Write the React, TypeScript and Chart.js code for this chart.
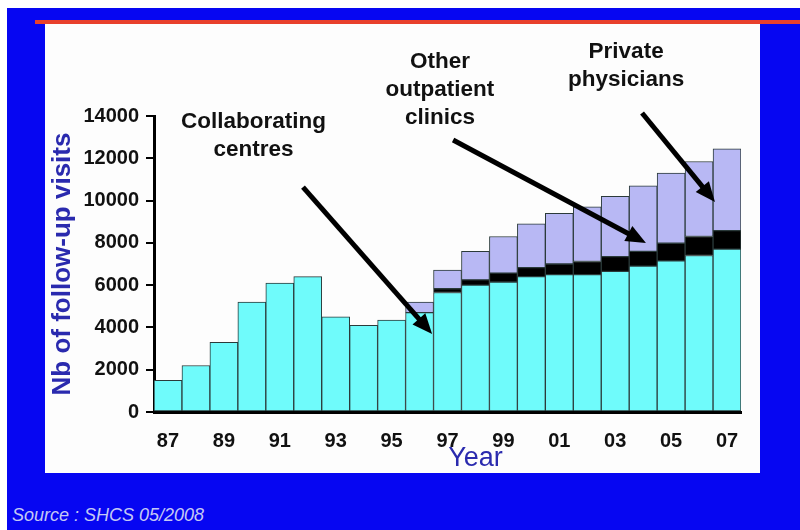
import React, { useEffect, useRef } from 'react';
import { Chart, registerables } from 'chart.js';

Chart.register(...registerables);

// ---------- data ----------
const years = ['87', '88', '89', '90', '91', '92', '93', '94', '95', '96', '97', '98', '99', '00', '01', '02', '03', '04', '05', '06', '07'];
const collaboratingCentres = [1500, 2200, 3300, 5200, 6100, 6400, 4500, 4100, 4350, 4700, 5650, 6000, 6150, 6400, 6500, 6500, 6650, 6900, 7150, 7400, 7700];
const otherOutpatientClinics = [null, null, null, null, null, null, null, null, null, null, 180, 250, 420, 430, 500, 620, 700, 700, 830, 900, 880];
const privatePhysicians = [null, null, null, null, null, null, null, null, null, 500, 880, 1350, 1730, 2070, 2400, 2580, 2850, 3100, 3320, 3550, 3870];
const yTicks = [0, 2000, 4000, 6000, 8000, 10000, 12000, 14000];

// annotation labels (x in category units, y of first line in data units)
const labelTexts = [
  { lines: ['Collaborating', 'centres'], x: 3.06, y: 13717 },
  { lines: ['Other', 'outpatient', 'clinics'], x: 9.73, y: 16555 },
  { lines: ['Private', 'physicians'], x: 16.39, y: 17028 },
];
const arrows = [
  { from: [4.83, 10640], to: [9.45, 3690] },
  { from: [10.2, 12866], to: [17.1, 7994] },
  { from: [16.96, 14143], to: [19.57, 9933] },
];

const FONT = '"Liberation Sans", Arial, Helvetica, sans-serif';
const TITLE_BLUE = '#2a2aae';

const annotationPlugin = {
  id: 'annotations',
  afterDatasetsDraw(chart: any) {
    const { ctx, scales } = chart;
    const xs = scales.x;
    const ys = scales.y;
    ctx.save();
    // arrows
    ctx.strokeStyle = '#000';
    ctx.fillStyle = '#000';
    ctx.lineWidth = 5;
    ctx.lineCap = 'butt';
    for (const a of arrows) {
      const x1 = xs.getPixelForValue(a.from[0]);
      const y1 = ys.getPixelForValue(a.from[1]);
      const x2 = xs.getPixelForValue(a.to[0]);
      const y2 = ys.getPixelForValue(a.to[1]);
      const ang = Math.atan2(y2 - y1, x2 - x1);
      const headLen = 20;
      const headHalf = 8.5;
      const bx = x2 - Math.cos(ang) * headLen;
      const by = y2 - Math.sin(ang) * headLen;
      ctx.beginPath();
      ctx.moveTo(x1, y1);
      ctx.lineTo(bx + Math.cos(ang) * 4, by + Math.sin(ang) * 4);
      ctx.stroke();
      ctx.beginPath();
      ctx.moveTo(x2, y2);
      ctx.lineTo(bx - Math.sin(ang) * headHalf, by + Math.cos(ang) * headHalf);
      ctx.lineTo(bx + Math.sin(ang) * headHalf, by - Math.cos(ang) * headHalf);
      ctx.closePath();
      ctx.fill();
    }
    // labels
    ctx.font = `bold 22.5px ${FONT}`;
    ctx.textAlign = 'center';
    ctx.textBaseline = 'middle';
    ctx.fillStyle = '#111';
    for (const t of labelTexts) {
      const px = xs.getPixelForValue(t.x);
      const py = ys.getPixelForValue(t.y);
      t.lines.forEach((ln, i) => ctx.fillText(ln, px, py + i * 28));
    }
    // x axis title "Year"
    ctx.font = `27px ${FONT}`;
    ctx.fillStyle = TITLE_BLUE;
    ctx.fillText('Year', xs.getPixelForValue(11), chart.chartArea.bottom + 47);
    ctx.restore();
  },
};

export default function App() {
  const ref = useRef<HTMLCanvasElement | null>(null);

  useEffect(() => {
    if (!ref.current) return;
    const border = '#2b3a3a';
    const chart = new Chart(ref.current, {
      type: 'bar',
      data: {
        labels: years,
        datasets: [
          {
            label: 'Collaborating centres',
            data: collaboratingCentres,
            backgroundColor: '#6ffbfb',
            borderColor: border,
            borderWidth: 1,
            borderSkipped: false,
          },
          {
            label: 'Other outpatient clinics',
            data: otherOutpatientClinics as any,
            backgroundColor: '#000000',
            borderColor: border,
            borderWidth: 1,
            borderSkipped: false,
          },
          {
            label: 'Private physicians',
            data: privatePhysicians as any,
            backgroundColor: '#b8b8f4',
            borderColor: border,
            borderWidth: 1,
            borderSkipped: false,
          },
        ],
      },
      options: {
        responsive: false,
        animation: false,
        events: [],
        layout: { padding: { left: 47, top: 116, right: 59, bottom: 68 } },
        datasets: { bar: { categoryPercentage: 1, barPercentage: 1 } },
        plugins: { legend: { display: false }, tooltip: { enabled: false }, title: { display: false } },
        scales: {
          x: {
            stacked: true,
            offset: true,
            grid: { display: false, drawTicks: false },
            border: { display: true, color: '#000', width: 3 },
            ticks: {
              autoSkip: false,
              maxRotation: 0,
              padding: 17,
              color: '#111',
              font: { family: FONT, size: 20, weight: 'bold' },
              callback: (_v: any, i: number) => (i % 2 === 0 ? years[i] : ''),
            },
            afterFit: (s: any) => {
              s.height = 50;
            },
          },
          y: {
            stacked: true,
            min: 0,
            max: 14000,
            afterBuildTicks: (s: any) => {
              s.ticks = yTicks.map((v) => ({ value: v }));
            },
            grid: { drawOnChartArea: false, drawTicks: true, tickLength: 8, color: '#000', lineWidth: 2 },
            border: { display: true, color: '#000', width: 3 },
            ticks: {
              padding: 7,
              color: '#111',
              font: { family: FONT, size: 20, weight: 'bold' },
              callback: (v: any) => String(v),
            },
            title: {
              display: true,
              text: 'Nb of follow-up visits',
              color: TITLE_BLUE,
              font: { family: FONT, size: 26, weight: 'bold' },
              padding: { top: 0, bottom: 0 },
            },
            afterFit: (s: any) => {
              s.width = 107;
            },
          },
        },
      },
      plugins: [annotationPlugin],
    });
    return () => chart.destroy();
  }, []);

  return (
    <div style={{ position: 'absolute', left: 0, top: 0, width: 800, height: 530, background: '#ffffff', overflow: 'hidden' }}>
      <div style={{ position: 'absolute', left: 7, top: 8, width: 793, height: 522, background: '#0606f2' }} />
      <div style={{ position: 'absolute', left: 35, top: 20, width: 765, height: 4, background: '#e8402c' }} />
      <div style={{ position: 'absolute', left: 45, top: 24, width: 715, height: 449, background: '#fdfdfd' }} />
      <div
        style={{
          position: 'absolute',
          left: 12,
          top: 505,
          fontFamily: FONT,
          fontStyle: 'italic',
          fontSize: 18,
          color: '#c4c8f4',
          whiteSpace: 'nowrap',
        }}
      >
        Source : SHCS 05/2008
      </div>
      <canvas ref={ref} width={800} height={530} style={{ position: 'absolute', left: 0, top: 0, width: 800, height: 530 }} />
    </div>
  );
}
